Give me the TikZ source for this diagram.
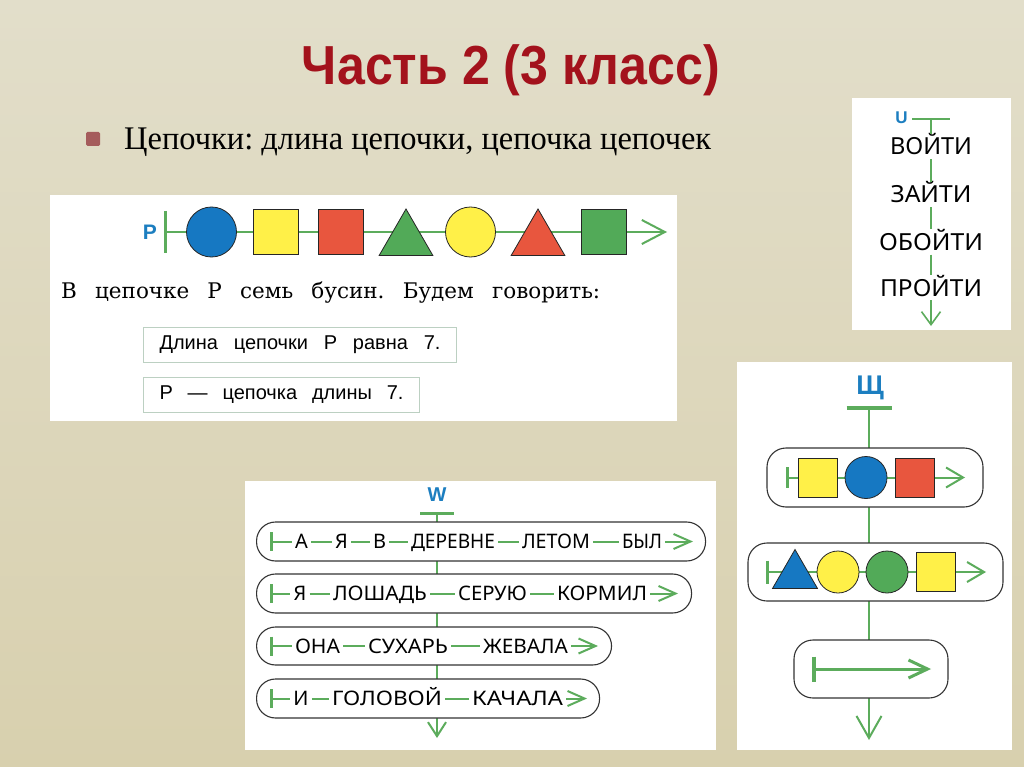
\documentclass[tikz,border=0pt]{standalone}
\usepackage{fontspec}
\usepackage{graphicx}
\setmainfont{Liberation Serif}
\setsansfont{Liberation Sans}
\newfontfamily\titlefont{Liberation Sans}
\newfontfamily\schfont{DejaVu Serif}
\newfontfamily\wordfont{Noto Sans}
\usetikzlibrary{shapes.geometric,arrows.meta}
\frenchspacing
\definecolor{bgtop}{RGB}{226,222,202}
\definecolor{bgbot}{RGB}{216,208,174}
\definecolor{cgreen}{RGB}{92,172,92}
\definecolor{cblue}{RGB}{22,120,194}
\definecolor{cyellow}{RGB}{255,240,72}
\definecolor{cred}{RGB}{232,86,62}
\definecolor{cgreenb}{RGB}{82,170,88}
\definecolor{clabel}{RGB}{28,126,192}
\definecolor{ctitle}{RGB}{163,18,28}
\definecolor{cbullet}{RGB}{165,92,92}
\definecolor{cbox}{RGB}{188,208,194}
\newcommand\fitword[2]{\resizebox{#1pt}{\height}{#2}}
\tikzset{
 panel/.style={fill=white, draw=none, inner sep=0, anchor=north west},
 chainline/.style={draw=cgreen, line width=2pt},
 startbar/.style={draw=cgreen, line width=3pt},
 bead/.style={draw=black!85, line width=0.8pt, inner sep=0},
 beadcirc/.style={bead, circle, minimum size=#1},
 beadsq/.style={bead, rectangle, minimum size=#1},
 beadtri/.style={bead, regular polygon, regular polygon sides=3, minimum size=#1},
 lbl/.style={text=clabel, font=\titlefont\bfseries\fontsize{#1}{#1}\selectfont, inner sep=0},
 word/.style={font=\wordfont\fontsize{20}{20}\selectfont, text height=14pt, text depth=0pt, inner xsep=3pt, inner ysep=0pt},
 uword/.style={font=\wordfont\fontsize{23.5}{24}\selectfont, text height=17pt, text depth=0pt, inner xsep=2pt, inner ysep=4pt},
 rowbox/.style={draw=black!80, line width=1.1pt, fill=white, rounded corners=19pt, minimum height=39pt, inner sep=0, anchor=west},
 groupbox/.style={draw=black!80, line width=1.1pt, fill=white, rounded corners=19pt, minimum height=58pt, inner sep=0},
 textbox/.style={draw=cbox, line width=1pt, minimum height=35pt, inner xsep=16pt, inner ysep=0pt, anchor=west, font=\sffamily\fontsize{20}{22}\selectfont},
 wtip/.style={-{Straight Barb[length=17pt,width=15pt]}},
}
\begin{document}
\begin{tikzpicture}[x=1pt,y=-1pt]
\useasboundingbox (0,0) rectangle (1024,767);
\shade[top color=bgtop, bottom color=bgbot] (0,0) rectangle (1024,767);

% title and bullet
\node[anchor=base, inner sep=0, text=ctitle] (title) at (511,85) {\titlefont\bfseries\fontsize{55}{60}\selectfont\resizebox{418pt}{\height}{Часть 2 (3 класс)}};
\node[fill=cbullet, minimum size=14pt, inner sep=0, rounded corners=1.5pt] (bul) at (93,139) {};
\node[anchor=base west, inner sep=0] (btext) at (124,150) {\fontsize{33}{40}\selectfont\resizebox{587pt}{\height}{Цепочки: длина цепочки, цепочка цепочек}};

% panel 1
\node[panel, minimum width=627pt, minimum height=226pt] (pan1) at (50,195) {};
\coordinate (p1s) at (165,232);
\coordinate (p1e) at (667,232);
\draw[chainline, -{Straight Barb[length=23pt,width=24pt]}] (p1s) -- (p1e);
\draw[startbar] ([yshift=21pt]p1s) -- ([yshift=-21pt]p1s);
\node[lbl=21] (lP) at (150,232) {P};
\node[beadcirc=50pt, fill=cblue] (b1) at (211.5,232) {};
\node[beadsq=45pt, fill=cyellow] (b2) at (276,231.5) {};
\node[beadsq=45pt, fill=cred] (b3) at (341,231.5) {};
\node[beadtri=62pt, fill=cgreenb] (b4) at (406,240) {};
\node[beadcirc=50pt, fill=cyellow] (b5) at (470.5,232) {};
\node[beadtri=62pt, fill=cred] (b6) at (538,240) {};
\node[beadsq=45pt, fill=cgreenb] (b7) at (603.5,231.5) {};
\node[anchor=base west, inner sep=0] (p1text) at (61,298) {\schfont\fontsize{21.5}{25}\selectfont\makebox[539pt][s]{В цепочке Р семь бусин. Будем говорить:}};
\node[textbox] (d1) at (143,344.5) {\makebox[281pt][s]{Длина цепочки Р равна 7.}};
\node[textbox] (d2) at (143,394.5) {\makebox[244pt][s]{Р — цепочка длины 7.}};

% panel U
\node[panel, minimum width=159pt, minimum height=232pt] (pan2) at (852,98) {};
\node[lbl=17] (lU) at (901.5,118) {U};
\coordinate (ub) at (931,119);
\coordinate (ue) at (931,326);
\draw[startbar, line width=2.5pt] ([xshift=-19pt]ub) -- ([xshift=19pt]ub);
\node[uword] (u1) at (931,146.5) {\fitword{82}{ВОЙТИ}};
\node[uword] (u2) at (931,194.5) {\fitword{81}{ЗАЙТИ}};
\node[uword] (u3) at (931,242) {\fitword{104}{ОБОЙТИ}};
\node[uword] (u4) at (931,287.5) {\fitword{102}{ПРОЙТИ}};
\draw[chainline, line width=1.6pt] (ub) -- (u1) -- (u2) -- (u3) -- (u4);
\draw[chainline, line width=1.6pt, -{Straight Barb[length=13pt,width=19pt]}] (u4) -- (ue);

% panel W
\node[panel, minimum width=471pt, minimum height=269pt] (pan3) at (245,481) {};
\node[lbl=20] (lW) at (437,495) {W};
\coordinate (wb) at (437,513);
\coordinate (we) at (437,738);
\draw[chainline, -{Straight Barb[length=14pt,width=18pt]}] (wb) -- (we);
\draw[startbar] ([xshift=-17pt]wb) -- ([xshift=17pt]wb);
\node[rowbox, minimum width=449pt] (r1) at (256,541.5) {};
\node[rowbox, minimum width=435pt] (r2) at (256,593.5) {};
\node[rowbox, minimum width=355pt, minimum height=38pt] (r3) at (256,646) {};
\node[rowbox, minimum width=343pt] (r4) at (256,698.5) {};
% row 1
\coordinate (r1s) at (271,541.5); \coordinate (r1e) at (693,541.5);
\node[word] (r1a) at (301.5,541.5) {А};
\node[word] (r1b) at (341.5,541.5) {Я};
\node[word] (r1c) at (379.5,541.5) {В};
\node[word] (r1d) at (453,541.5) {\fitword{84}{ДЕРЕВНЕ}};
\node[word] (r1f) at (556,541.5) {\fitword{68}{ЛЕТОМ}};
\node[word] (r1g) at (642,541.5) {\fitword{40}{БЫЛ}};
\draw[chainline] (r1s) -- (r1a) -- (r1b) -- (r1c) -- (r1d) -- (r1f) -- (r1g);
\draw[chainline, wtip] (r1g) -- (r1e);
\draw[startbar] ([yshift=9.5pt]r1s) -- ([yshift=-9.5pt]r1s);
% row 2
\coordinate (r2s) at (271,593.5); \coordinate (r2e) at (678,593.5);
\node[word] (r2a) at (300,593.5) {Я};
\node[word] (r2b) at (380,593.5) {\fitword{94}{ЛОШАДЬ}};
\node[word] (r2c) at (492.5,593.5) {\fitword{69}{СЕРУЮ}};
\node[word] (r2d) at (602,593.5) {\fitword{90}{КОРМИЛ}};
\draw[chainline] (r2s) -- (r2a) -- (r2b) -- (r2c) -- (r2d);
\draw[chainline, wtip] (r2d) -- (r2e);
\draw[startbar] ([yshift=9.5pt]r2s) -- ([yshift=-9.5pt]r2s);
% row 3
\coordinate (r3s) at (271,646); \coordinate (r3e) at (598,646);
\node[word] (r3a) at (317.5,646) {\fitword{45}{ОНА}};
\node[word] (r3b) at (408,646) {\fitword{80}{СУХАРЬ}};
\node[word] (r3c) at (525.5,646) {\fitword{85}{ЖЕВАЛА}};
\draw[chainline] (r3s) -- (r3a) -- (r3b) -- (r3c);
\draw[chainline, wtip] (r3c) -- (r3e);
\draw[startbar] ([yshift=9.5pt]r3s) -- ([yshift=-9.5pt]r3s);
% row 4
\coordinate (r4s) at (271,698.5); \coordinate (r4e) at (587,698.5);
\node[word] (r4a) at (301,698.5) {И};
\node[word] (r4b) at (387,698.5) {\fitword{110}{ГОЛОВОЙ}};
\node[word] (r4c) at (517.5,698.5) {\fitword{91}{КАЧАЛА}};
\draw[chainline] (r4s) -- (r4a) -- (r4b) -- (r4c);
\draw[chainline, wtip] (r4c) -- (r4e);
\draw[startbar] ([yshift=9.5pt]r4s) -- ([yshift=-9.5pt]r4s);

% panel Shch
\node[panel, minimum width=275pt, minimum height=388pt] (pan4) at (737,362) {};
\node[lbl=27] (lS) at (870,388) {Щ};
\coordinate (sbar) at (869,408);
\coordinate (send) at (869,740);
\draw[chainline, -{Straight Barb[length=22pt,width=25pt]}] (sbar) -- (send);
\draw[startbar, line width=4pt] ([xshift=-22.5pt]sbar) -- ([xshift=22.5pt]sbar);
\node[groupbox, minimum width=216pt, minimum height=59pt] (ga) at (875,477.5) {};
\node[groupbox, minimum width=255pt] (gb) at (875.5,572) {};
\node[groupbox, minimum width=154pt] (gc) at (871,669) {};
% group A
\coordinate (gas) at (787,477.5); \coordinate (gae) at (965,477.5);
\draw[chainline, -{Straight Barb[length=17pt,width=20pt]}] (gas) -- (gae);
\draw[startbar] ([yshift=10.5pt]gas) -- ([yshift=-10.5pt]gas);
\node[beadsq=39pt, fill=cyellow] (qa1) at (817.5,477.5) {};
\node[beadcirc=42pt, fill=cblue] (qa2) at (866,477.5) {};
\node[beadsq=39pt, fill=cred] (qa3) at (914.5,477.5) {};
% group B
\coordinate (gbs) at (767,572); \coordinate (gbe) at (986,572);
\draw[chainline, -{Straight Barb[length=17pt,width=20pt]}] (gbs) -- (gbe);
\draw[startbar] ([yshift=11.5pt]gbs) -- ([yshift=-11.5pt]gbs);
\node[beadtri=52pt, fill=cblue] (qb1) at (795,575.5) {};
\node[beadcirc=42pt, fill=cyellow] (qb2) at (838,572) {};
\node[beadcirc=42pt, fill=cgreenb] (qb3) at (887,572) {};
\node[beadsq=39pt, fill=cyellow] (qb4) at (936,571.5) {};
% group C
\coordinate (gcs) at (814,669); \coordinate (gce) at (931,669);
\draw[chainline, line width=3pt, -{Straight Barb[length=19pt,width=18pt]}] (gcs) -- (gce);
\draw[startbar, line width=3.5pt] ([yshift=12.5pt]gcs) -- ([yshift=-12.5pt]gcs);
\end{tikzpicture}
\end{document}
